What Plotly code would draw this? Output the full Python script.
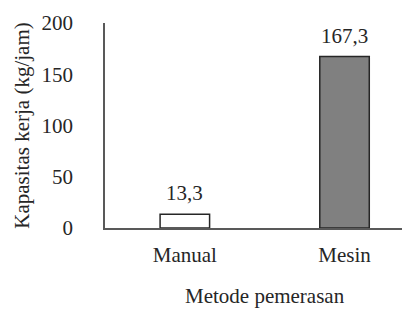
import plotly.graph_objects as go

categories = ["Manual", "Mesin"]
values = [13.3, 167.3]
value_labels = ["13,3", "167,3"]
bar_colors = ["#ffffff", "#808080"]
y_ticks = [0, 50, 100, 150, 200]

FONT = "Liberation Serif"
TXT = "#262626"
FS = 21

fig = go.Figure()
fig.add_trace(go.Bar(
    x=categories, y=values, width=0.31,
    marker=dict(color=bar_colors, line=dict(color="#262626", width=1.5)),
    showlegend=False, hoverinfo="skip",
))
for c, v, t in zip(categories, values, value_labels):
    fig.add_annotation(x=c, y=v, text=t, showarrow=False, xref="x", yref="y",
                       yanchor="bottom", yshift=7,
                       font=dict(family=FONT, size=FS, color=TXT))
fig.add_annotation(x=0.5, y=-0.33, xref="x", yref="paper", text="Metode pemerasan",
                   showarrow=False, yanchor="middle",
                   font=dict(family=FONT, size=FS, color=TXT))

fig.update_layout(
    width=402, height=302,
    margin=dict(l=97, r=0, t=15, b=82),
    paper_bgcolor="white", plot_bgcolor="white",
    font=dict(family=FONT, size=FS, color=TXT),
)
fig.update_xaxes(
    range=[-0.5, 1.41], showline=True, linecolor="#595959", linewidth=1.5,
    ticks="", showgrid=False, zeroline=False, ticklabelstandoff=7,
    tickfont=dict(family=FONT, size=FS, color=TXT),
)
fig.update_yaxes(
    range=[0, 200], tickvals=y_ticks, showline=True, linecolor="#595959", linewidth=1.5,
    ticks="", showgrid=False, zeroline=False, ticklabelstandoff=26,
    tickfont=dict(family=FONT, size=FS, color=TXT),
    title=dict(text="Kapasitas kerja (kg/jam)", standoff=6,
               font=dict(family=FONT, size=FS, color=TXT)),
    automargin=False,
)
fig.write_html("out.html")
